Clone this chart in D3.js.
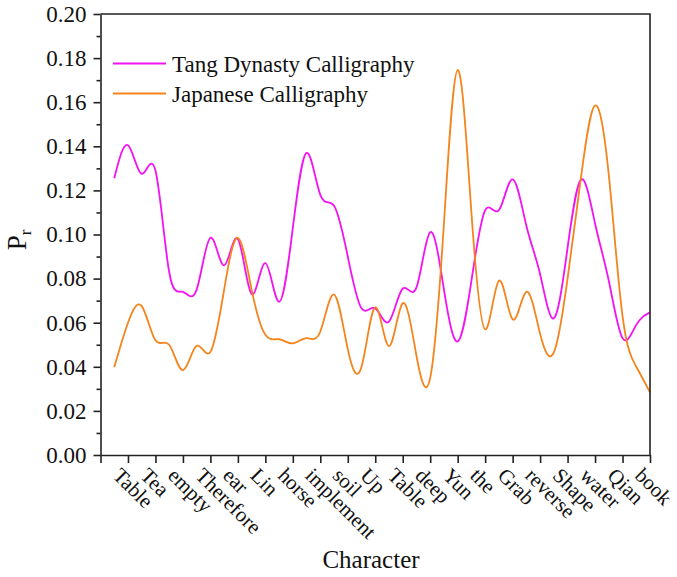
<!DOCTYPE html>
<html>
<head>
<meta charset="utf-8">
<script src="https://cdn.jsdelivr.net/npm/d3@7"></script>
<style>
  body { margin: 0; background: #fff; }
</style>
</head>
<body>
<div id="chart"></div>
<script>
var width = 677;
var height = 577;
var serif = "'Liberation Serif', 'Times New Roman', Tinos, serif";

// x categories sit on 1..20, curves are sampled on half steps
var characters = ["Table", "Tea", "empty", "Therefore", "ear", "Lin", "horse", "implement", "soil", "Up",
                  "Table", "deep", "Yun", "the", "Grab", "reverse", "Shape", "water", "Qian", "book"];
var xTicks = [0, 1, 2, 3, 4, 5, 6, 7, 8, 9, 10, 11, 12, 13, 14, 15, 16, 17, 18, 19, 20];
var samplePos = [0.5, 1, 1.5, 2, 2.5, 3, 3.5, 4, 4.5, 5, 5.5, 6, 6.5, 7, 7.5, 8, 8.5, 9, 9.5, 10,
                 10.5, 11, 11.5, 12, 12.5, 13, 13.5, 14, 14.5, 15, 15.5, 16, 16.5, 17, 17.5, 18, 18.5, 19, 19.5, 20];

var tangValues = [0.1255, 0.1405, 0.1275, 0.129, 0.083, 0.074, 0.075, 0.0985, 0.086, 0.098,
                  0.073, 0.087, 0.0695, 0.103, 0.137, 0.118, 0.113, 0.090, 0.0665, 0.0665,
                  0.0605, 0.0755, 0.076, 0.101, 0.075, 0.0515, 0.079, 0.111, 0.111, 0.125,
                  0.104, 0.082, 0.062, 0.094, 0.125, 0.105, 0.079, 0.053, 0.059, 0.0647];
var japanValues = [0.0398, 0.060, 0.0675, 0.052, 0.050, 0.0385, 0.0495, 0.0467, 0.075, 0.0985,
                   0.075, 0.0545, 0.0525, 0.0506, 0.053, 0.056, 0.0728, 0.048, 0.040, 0.067,
                   0.0494, 0.0688, 0.045, 0.035, 0.105, 0.1746, 0.110, 0.057, 0.079, 0.0615,
                   0.074, 0.055, 0.0465, 0.080, 0.127, 0.1585, 0.127, 0.063, 0.040, 0.0284];

var yTicks = [0, 0.02, 0.04, 0.06, 0.08, 0.10, 0.12, 0.14, 0.16, 0.18, 0.20];
var yMinorTicks = [0.01, 0.03, 0.05, 0.07, 0.09, 0.11, 0.13, 0.15, 0.17, 0.19];

var seriesNames = ["Tang Dynasty Calligraphy", "Japanese Calligraphy"];
var seriesColors = ["#f312f3", "#f5841c"];

var plot = {left: 100.5, right: 650, top: 14, bottom: 455};

var x = d3.scaleLinear().domain([0, 20]).range([plot.left, plot.right]);
var y = d3.scaleLinear().domain([0, 0.2]).range([plot.bottom, plot.top]);

var svg = d3.select("#chart")
    .append("svg")
    .attr("width", width)
    .attr("height", height)
    .style("font-family", serif);

// series
var line = d3.line()
    .x(function(d) { return x(d[0]); })
    .y(function(d) { return y(d[1]); })
    .curve(d3.curveNatural);

[tangValues, japanValues].forEach(function(vals, i) {
    svg.append("path")
        .datum(d3.zip(samplePos, vals))
        .attr("d", line)
        .attr("fill", "none")
        .attr("stroke", seriesColors[i])
        .attr("stroke-width", 1.8);
});

// frame (top and right sides)
svg.append("path")
    .attr("d", "M" + plot.left + "," + plot.top + "H" + plot.right + "V" + plot.bottom)
    .attr("fill", "none")
    .attr("stroke", "#222")
    .attr("stroke-width", 1.6);

// y axis
var yAxis = svg.append("g")
    .attr("transform", "translate(" + plot.left + ",0)")
    .call(d3.axisLeft(y).tickValues(yTicks).tickSize(7).tickSizeOuter(0).tickPadding(7)
        .tickFormat(d3.format(".2f")));
svg.append("g")
    .attr("transform", "translate(" + plot.left + ",0)")
    .call(d3.axisLeft(y).tickValues(yMinorTicks).tickSize(4).tickSizeOuter(0).tickFormat(""))
    .select(".domain").remove();

yAxis.selectAll("text")
    .style("font-family", serif)
    .style("font-size", "23px")
    .attr("fill", "#111");

// x axis
var xAxis = svg.append("g")
    .attr("transform", "translate(0," + plot.bottom + ")")
    .call(d3.axisBottom(x).tickValues(xTicks).tickSize(8).tickSizeOuter(0)
        .tickFormat(function(d) { return d === 0 ? "" : characters[d - 1]; }));

xAxis.selectAll("text")
    .attr("x", 0)
    .attr("y", 0)
    .attr("dy", "0.72em")
    .attr("text-anchor", "start")
    .attr("transform", "translate(-6,11) rotate(45)")
    .style("font-family", serif)
    .style("font-size", "21px")
    .attr("fill", "#111");

svg.selectAll(".domain, .tick line")
    .attr("stroke", "#222")
    .attr("stroke-width", 1.6);

// axis titles
svg.append("text")
    .attr("x", 371)
    .attr("y", 568)
    .attr("text-anchor", "middle")
    .attr("fill", "#111")
    .style("font-size", "25px")
    .text("Character");

var yTitle = svg.append("text")
    .attr("transform", "translate(26,240) rotate(-90)")
    .attr("text-anchor", "middle")
    .attr("fill", "#111")
    .style("font-size", "27px");
yTitle.append("tspan").text("P");
yTitle.append("tspan").attr("dy", "0.3em").style("font-size", "17px").text("r");

// legend
var legend = svg.append("g")
    .attr("class", "legend");

legend.selectAll("line")
    .data(seriesNames)
    .enter()
    .append("line")
    .attr("x1", 113)
    .attr("x2", 166)
    .attr("y1", function(d, i) { return 63.5 + i * 30; })
    .attr("y2", function(d, i) { return 63.5 + i * 30; })
    .attr("stroke", function(d, i) { return seriesColors[i]; })
    .attr("stroke-width", 1.8);

legend.selectAll("text")
    .data(seriesNames)
    .enter()
    .append("text")
    .attr("x", 172)
    .attr("y", function(d, i) { return 63.5 + i * 30; })
    .attr("dy", "0.35em")
    .attr("fill", "#111")
    .style("font-size", "23px")
    .text(function(d) { return d; });
</script>
</body>
</html>
